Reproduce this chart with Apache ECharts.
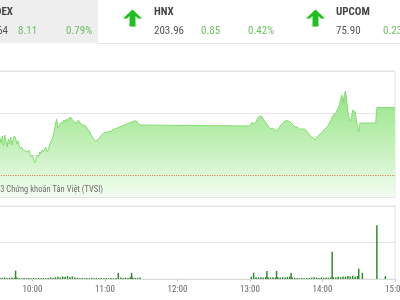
<!DOCTYPE html>
<html><head><meta charset="utf-8">
<script src="https://cdn.jsdelivr.net/npm/echarts@6/dist/echarts.min.js"></script>
<style>html,body{margin:0;padding:0;background:#fff;overflow:hidden}#c{width:400px;height:300px}</style>
</head><body><div id="c"></div>
<script>
// ---- data ----
const priceTimes = ['09:15','09:18','09:21','09:24','09:27','09:30','09:33','09:34','09:35','09:36','09:37','09:38','09:39','09:40','09:41','09:42','09:43','09:44','09:45','09:46','09:47','09:48','09:49','09:50','09:51','09:52','09:53','09:54','09:55','09:56','09:57','09:58','09:59',
'10:00','10:01','10:02','10:03','10:04','10:05','10:06','10:07','10:08','10:09','10:10','10:11','10:12','10:13','10:14','10:15','10:16','10:17','10:18','10:19','10:20','10:21','10:22','10:23','10:24','10:25','10:26','10:27','10:28','10:29','10:30','10:31','10:32','10:33','10:34','10:35','10:36','10:37','10:38','10:39','10:40','10:41','10:42','10:43','10:44','10:45','10:46','10:47','10:48','10:49','10:50','10:51','10:52','10:53','10:54','10:55','10:56','10:57','10:58','10:59',
'11:00','11:01','11:02','11:03','11:04','11:05','11:06','11:07','11:08','11:09','11:10','11:11','11:12','11:13','11:14','11:15','11:16','11:17','11:18','11:19','11:20','11:21','11:22','11:23','11:24','11:25','11:26','11:27','11:28','11:29','11:30',
'13:00','13:01','13:02','13:03','13:04','13:05','13:06','13:07','13:08','13:09','13:10','13:11','13:12','13:13','13:14','13:15','13:16','13:17','13:18','13:19','13:20','13:21','13:22','13:23','13:24','13:25','13:26','13:27','13:28','13:29','13:30','13:31','13:32','13:33','13:34','13:35','13:36','13:37','13:38','13:39','13:40','13:41','13:42','13:43','13:44','13:45','13:46','13:47','13:48','13:49','13:50','13:51','13:52','13:53','13:54','13:55','13:56','13:57','13:58','13:59',
'14:00','14:01','14:02','14:03','14:04','14:05','14:06','14:07','14:08','14:09','14:10','14:11','14:12','14:13','14:14','14:15','14:16','14:17','14:18','14:19','14:20','14:21','14:22','14:23','14:24','14:25','14:26','14:27','14:28','14:29','14:30','14:31','14:44','14:45','15:00'];
const priceValues = [1030.79,1031.26,1030.55,1031.02,1031.50,1030.79,1031.02,1030.43,1031.26,1030.07,1031.38,1030.67,1029.95,1030.90,1030.31,1031.14,1030.19,1030.79,1031.26,1031.02,1030.31,1030.67,1030.07,1029.71,1029.95,1029.60,1029.83,1029.48,1029.71,1029.36,1029.60,1029.12,1028.76,
1029.00,1028.40,1028.05,1028.64,1029.00,1028.76,1029.36,1029.12,1029.60,1029.36,1029.71,1029.95,1029.36,1029.60,1030.07,1030.55,1030.67,1031.14,1031.86,1032.69,1033.29,1032.21,1032.33,1032.69,1032.93,1032.69,1033.17,1032.93,1033.29,1033.05,1033.40,1033.52,1033.46,1033.17,1033.29,1032.93,1033.05,1032.81,1033.17,1032.93,1032.69,1032.81,1032.57,1032.69,1032.45,1032.21,1031.98,1031.86,1031.50,1031.26,1031.02,1030.90,1030.67,1030.55,1030.79,1030.90,1031.14,1031.26,1031.50,1031.62,
1031.74,1031.86,1031.62,1031.86,1031.98,1031.74,1031.98,1031.86,1032.10,1031.98,1032.21,1032.10,1032.33,1032.21,1032.45,1032.33,1032.57,1032.45,1032.69,1032.57,1032.81,1032.69,1032.93,1032.81,1033.05,1033.17,1033.05,1032.81,1032.69,1032.57,1032.63,
1032.45,1032.69,1032.93,1032.69,1032.57,1032.93,1033.29,1033.52,1033.64,1033.52,1033.58,1033.29,1033.05,1032.93,1032.69,1032.45,1032.33,1032.10,1031.98,1032.21,1031.98,1031.86,1031.74,1031.98,1032.21,1032.45,1032.57,1032.81,1032.93,1033.05,1033.17,1033.11,1033.05,1032.93,1032.81,1032.69,1032.57,1032.33,1032.21,1032.33,1032.21,1032.10,1032.21,1032.10,1032.21,1032.10,1031.98,1031.86,1031.62,1031.50,1031.26,1031.14,1031.02,1030.90,1030.79,1031.02,1031.26,1031.14,1031.50,1031.62,
1031.74,1031.98,1031.86,1032.21,1032.33,1032.57,1032.93,1033.17,1033.52,1033.76,1033.64,1034.00,1033.88,1034.60,1034.95,1035.07,1036.14,1035.19,1036.14,1036.62,1035.55,1034.12,1033.40,1033.05,1033.40,1034.36,1034.48,1034.12,1033.17,1032.33,1031.74,1032.81,1032.81,1034.64,1034.64];
const refClose = 1026.53;
const volTimes = ['09:15','09:17','09:19','09:21','09:23','09:25','09:27','09:29','09:31','09:33','09:35','09:37','09:39','09:41','09:43','09:45','09:46','09:47','09:49','09:51','09:53','09:55','09:57','09:59',
'10:01','10:03','10:05','10:07','10:09','10:11','10:13','10:15','10:17','10:19','10:21','10:23','10:25','10:27','10:29','10:31','10:33','10:35','10:37','10:39','10:41','10:43','10:45','10:47','10:49','10:51','10:53','10:55','10:57','10:59',
'11:01','11:03','11:05','11:07','11:09','11:11','11:13','11:15','11:17','11:19','11:21','11:22','11:23','11:25','11:27','11:29',
'13:01','13:03','13:05','13:07','13:09','13:11','13:13','13:14','13:15','13:17','13:19','13:21','13:22','13:23','13:25','13:27','13:29','13:31','13:33','13:34','13:35','13:37','13:39','13:41','13:43','13:45','13:47','13:49','13:51','13:53','13:55','13:57','13:59',
'14:01','14:03','14:05','14:07','14:08','14:09','14:11','14:13','14:15','14:17','14:19','14:21','14:23','14:25','14:27','14:29','14:30','14:33','14:45','14:52'];
const volValues = [0.05,0.03,0.04,0.03,0.04,0.03,0.03,0.04,0.03,0.04,0.03,0.04,0.03,0.03,0.04,0.03,0.23,0.04,0.03,0.02,0.03,0.02,0.03,0.02,
0.03,0.02,0.03,0.02,0.03,0.02,0.03,0.04,0.03,0.05,0.06,0.04,0.07,0.06,0.08,0.05,0.07,0.04,0.03,0.02,0.03,0.02,0.03,0.02,0.03,0.02,0.03,0.02,0.03,0.02,
0.03,0.02,0.03,0.02,0.03,0.17,0.04,0.03,0.04,0.03,0.05,0.17,0.04,0.03,0.03,0.04,
0.06,0.17,0.05,0.04,0.05,0.04,0.05,0.22,0.05,0.04,0.05,0.04,0.22,0.05,0.04,0.05,0.04,0.06,0.07,0.17,0.04,0.03,0.03,0.02,0.03,0.02,0.03,0.03,0.04,0.05,0.04,0.03,0.04,
0.03,0.04,0.03,0.04,0.75,0.05,0.04,0.06,0.05,0.07,0.06,0.08,0.07,0.09,0.06,0.08,0.28,0.17,1.47,0.08];
const tickLabels = ['09:00','10:00','11:00','12:00','13:00','14:00','15:00'];
const headerNames = ['VN-INDEX','HNX','UPCOM'];
const headerValues = ['1,034.64','203.96','75.90'];
const headerChanges = ['8.11','0.85','0.23'];
const headerPcts = ['0.79%','0.42%','0.30%'];
const copyrightText = '© 2023 Chứng khoán Tân Việt (TVSI)';

function toMin(s){const p=s.split(':');return (Number(p[0])-9)*60+Number(p[1]);}
const priceData = priceTimes.map((t,i)=>[toMin(t),priceValues[i]]);
const volData = volTimes.map((t,i)=>[toMin(t),volValues[i]]);

const chart = echarts.init(document.getElementById('c'),null,{renderer:'canvas'});
const NF = '"Liberation Sans Narrow","Roboto Condensed",Roboto,sans-serif';
const GREEN = '#6cc062';
const panelX = [[-1,-6,18,66],[154,154,201,248],[336,336,383,430]];
function arrow(x){
  return {type:'polygon',shape:{points:[[x+9.5,9.5],[x+19,18.5],[x+15,18.5],[x+12.5,16],[x+12.5,26.5],[x+6.5,26.5],[x+6.5,16],[x+4,18.5],[x,18.5]]},style:{fill:'#1fbf1f'}};
}
const graphics = [
  {type:'rect',shape:{x:0,y:0,width:98,height:43},style:{fill:'#eeeeee'}},
  {type:'line',shape:{x1:98,y1:43.5,x2:400,y2:43.5},style:{stroke:'#e4e4e4',lineWidth:1}},
  arrow(123), arrow(306)
];
headerNames.forEach((n,i)=>{
  const p = panelX[i];
  const first = i===0;
  graphics.push({type:'text',x:first?13:p[0],y:12.5,style:{text:n,font:'bold 11px '+NF,fill:'#444',textAlign:first?'right':'left',textVerticalAlign:'middle'}});
  graphics.push({type:'text',x:first?8:p[1],y:31.5,style:{text:headerValues[i],font:'11px '+NF,fill:'#555',textAlign:first?'right':'left',textVerticalAlign:'middle'}});
  graphics.push({type:'text',x:p[2],y:31.5,style:{text:headerChanges[i],font:'11px '+NF,fill:GREEN,textAlign:'left',textVerticalAlign:'middle'}});
  graphics.push({type:'text',x:p[3],y:31.5,style:{text:headerPcts[i],font:'11px '+NF,fill:GREEN,textAlign:'left',textVerticalAlign:'middle'}});
});
graphics.push({type:'text',x:103,y:189.5,z:100,style:{text:copyrightText,font:'8.5px '+NF,fill:'#6f6f6f',textAlign:'right',textVerticalAlign:'middle'}});

chart.setOption({
  animation:false,
  graphic:graphics,
  grid:[
    {left:-40,right:5,top:71,bottom:103,show:true,borderColor:'#e4e4e4',borderWidth:1,containLabel:false,outerBoundsMode:'none'},
    {left:-40,right:5,top:206,bottom:21,show:true,borderColor:'#e4e4e4',borderWidth:1,containLabel:false,outerBoundsMode:'none'}
  ],
  xAxis:[
    {gridIndex:0,type:'value',min:0,max:360,interval:60,show:false,splitLine:{show:false}},
    {gridIndex:1,type:'value',min:0,max:360,interval:60,
     axisLine:{lineStyle:{color:'#dcdcdc'}},axisTick:{show:true,length:3,lineStyle:{color:'#cccccc'}},
     splitLine:{show:false},
     axisLabel:{color:'#666',fontSize:9,fontFamily:NF,margin:6,showMinLabel:true,showMaxLabel:true,hideOverlap:false,formatter:v=>tickLabels[Math.round(v/60)]||''}}
  ],
  yAxis:[
    {gridIndex:0,type:'value',min:1024,max:1039,interval:5,axisLabel:{show:false},axisLine:{show:false},axisTick:{show:false},splitLine:{lineStyle:{color:'#e4e4e4'}}},
    {gridIndex:1,type:'value',min:0,max:2,interval:1,axisLabel:{show:false},axisLine:{show:false},axisTick:{show:false},splitLine:{lineStyle:{color:'#e4e4e4'}}}
  ],
  series:[
    {type:'line',xAxisIndex:0,yAxisIndex:0,data:priceData,symbol:'none',
     lineStyle:{color:'#86dc72',width:1},
     areaStyle:{origin:'start',opacity:1,color:new echarts.graphic.LinearGradient(0,0,0,1,[{offset:0,color:'#94e485'},{offset:0.5,color:'#c2f0b8'},{offset:1,color:'#f2fcf0'}])},
     markLine:{silent:true,symbol:'none',label:{show:false},lineStyle:{color:'#c98a5e',type:'dotted',width:1.2},data:[{yAxis:refClose}]}},
    {type:'bar',xAxisIndex:1,yAxisIndex:1,data:volData,barWidth:1.5,itemStyle:{color:'#2e8b2e'}}
  ]
});
</script></body></html>
